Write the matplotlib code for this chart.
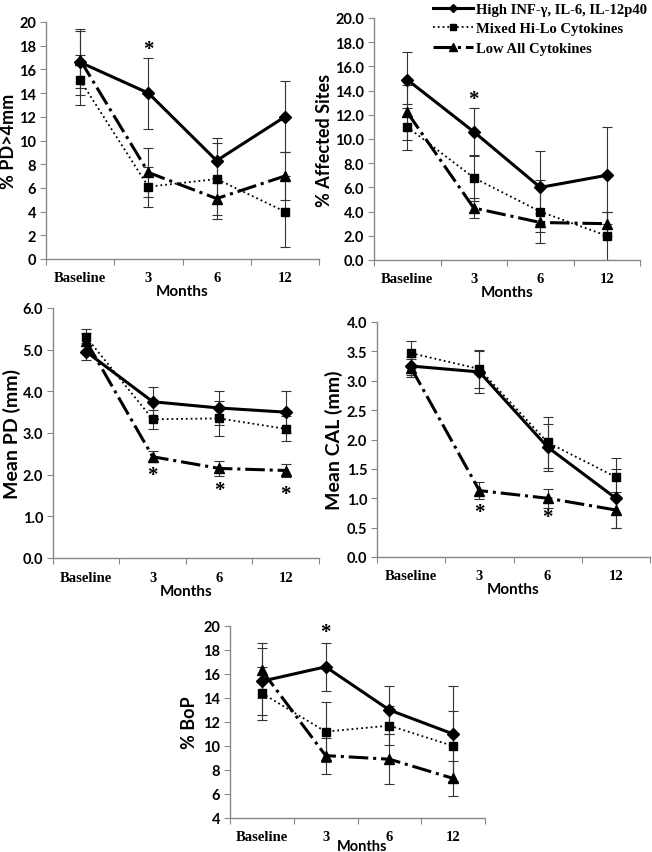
import matplotlib
matplotlib.use("Agg")
import matplotlib.pyplot as plt
import numpy as np

plt.rcParams['font.family'] = ['Lato', 'DejaVu Sans']
plt.rcParams['font.weight'] = 'bold'

cats = ["Baseline", "3", "6", "12"]
names = ["High INF-\u03b3, IL-6, IL-12p40", "Mixed Hi-Lo Cytokines", "Low All Cytokines"]

# % PD>4mm
pd4_high = [16.6, 14.0, 8.3, 12.0]
pd4_high_err = [2.8, 3.0, 1.9, 3.0]
pd4_mix = [15.1, 6.1, 6.75, 4.0]
pd4_mix_err = [2.1, 1.7, 3.0, 3.0]
pd4_low = [16.8, 7.3, 5.1, 7.0]
pd4_low_err = [2.4, 2.1, 1.7, 2.0]

# % Affected Sites
aff_high = [14.9, 10.6, 6.0, 7.0]
aff_high_err = [2.3, 2.0, 3.0, 4.0]
aff_mix = [11.0, 6.8, 4.0, 2.0]
aff_mix_err = [1.9, 1.9, 2.6, 2.0]
aff_low = [12.2, 4.3, 3.1, 3.0]
aff_low_err = [2.3, 0.8, 0.8, 1.0]

# Mean PD
mpd_high = [4.95, 3.75, 3.6, 3.5]
mpd_high_err = [0.2, 0.35, 0.4, 0.5]
mpd_mix = [5.3, 3.33, 3.35, 3.1]
mpd_mix_err = [0.2, 0.23, 0.42, 0.3]
mpd_low = [5.2, 2.43, 2.15, 2.1]
mpd_low_err = [0.2, 0.13, 0.17, 0.16]

# Mean CAL
cal_high = [3.25, 3.15, 1.87, 1.0]
cal_high_err = [0.15, 0.35, 0.4, 0.5]
cal_mix = [3.47, 3.2, 1.95, 1.36]
cal_mix_err = [0.21, 0.32, 0.43, 0.32]
cal_low = [3.22, 1.13, 1.0, 0.8]
cal_low_err = [0.15, 0.14, 0.16, 0.3]

# % BoP
bop_high = [15.4, 16.6, 13.0, 11.0]
bop_high_err = [2.8, 2.0, 2.0, 4.0]
bop_mix = [14.4, 11.2, 11.7, 10.0]
bop_mix_err = [2.2, 2.5, 1.6, 2.9]
bop_low = [16.3, 9.2, 8.9, 7.3]
bop_low_err = [2.3, 1.5, 2.1, 1.45]

W, H = 652, 853
fig = plt.figure(figsize=(W / 100, H / 100), dpi=100)

def make_ax(l, r, t, b):
    return fig.add_axes([l / W, 1 - b / H, (r - l) / W, (b - t) / H])

def draw(ax, high, high_e, mix, mix_e, low, low_e, ylim, step, fmt, ylabel, ylab_x, ylab_size, stars, l, r):
    x = np.arange(4) + 0.5
    for vals, errs in [(high, high_e), (mix, mix_e), (low, low_e)]:
        ax.errorbar(x, vals, yerr=errs, fmt='none', ecolor='#333333', elinewidth=0.8, capsize=3.5, capthick=0.8)
    h = ax.plot(x, high, '-', color='black', lw=2.2, marker='D', ms=6)[0]
    m = ax.plot(x, mix, ':', color='black', lw=1.3, marker='s', ms=6)[0]
    lo = ax.plot(x, low, '-.', color='black', lw=2.2, marker='^', ms=7.5)[0]
    ax.set_xlim(0, 4)
    ax.set_ylim(*ylim)
    ax.set_yticks(np.arange(ylim[0], ylim[1] + step / 2, step))
    ax.yaxis.set_major_formatter(plt.FuncFormatter(lambda v, p: fmt.format(v)))
    ax.set_xticks([0, 1, 2, 3, 4])
    ax.set_xticklabels([])
    ax.set_xticks(x, minor=True)
    ax.set_xticklabels(cats, minor=True, family='Liberation Serif', fontweight='bold', fontsize=10.5)
    ax.tick_params(axis='x', which='minor', length=0, pad=9)
    ax.tick_params(axis='x', which='major', length=4, color='#888888', direction='out')
    ax.tick_params(axis='y', length=4, color='#888888', direction='out', labelsize=10.5, pad=3)
    for s in ['top', 'right']:
        ax.spines[s].set_visible(False)
    for s in ['left', 'bottom']:
        ax.spines[s].set_color('#888888')
        ax.spines[s].set_linewidth(1.0)
    ax.set_ylabel(ylabel, fontsize=ylab_size, fontweight='bold')
    ax.yaxis.set_label_coords((ylab_x - l) / (r - l), 0.5)
    for xi, yi in stars:
        ax.text(x[xi], yi, '*', ha='center', va='center', fontsize=15, family='Liberation Serif')
    return h, m, lo

ax1 = make_ax(46, 319, 23, 260)
handles = draw(ax1, pd4_high, pd4_high_err, pd4_mix, pd4_mix_err, pd4_low, pd4_low_err,
               (0, 20), 2, '{:.0f}', '% PD>4mm', 17, 13, [(1, 17.7)], 46, 319)
ax1.set_xlabel('Months', fontsize=11, fontweight='bold', labelpad=0)

ax2 = make_ax(374, 640, 19, 261)
draw(ax2, aff_high, aff_high_err, aff_mix, aff_mix_err, aff_low, aff_low_err,
     (0, 20), 2, '{:.1f}', '% Affected Sites', 333, 13, [(1, 13.3)], 374, 640)
ax2.set_xlabel('Months', fontsize=11, fontweight='bold', labelpad=0)

ax3 = make_ax(53, 319, 309, 559)
draw(ax3, mpd_high, mpd_high_err, mpd_mix, mpd_mix_err, mpd_low, mpd_low_err,
     (0, 6), 1, '{:.1f}', 'Mean PD (mm)', 21, 14, [(1, 2.0), (2, 1.62), (3, 1.53)], 53, 319)
ax3.set_xlabel('Months', fontsize=11, fontweight='bold', labelpad=0)

ax4 = make_ax(377, 650, 323, 558)
draw(ax4, cal_high, cal_high_err, cal_mix, cal_mix_err, cal_low, cal_low_err,
     (0, 4), 0.5, '{:.1f}', 'Mean CAL (mm)', 343, 14, [(1, 0.77), (2, 0.68)], 377, 650)
ax4.set_xlabel('Months', fontsize=11, fontweight='bold', labelpad=0)

ax5 = make_ax(230, 485, 627, 819)
draw(ax5, bop_high, bop_high_err, bop_mix, bop_mix_err, bop_low, bop_low_err,
     (4, 20), 2, '{:.0f}', '% BoP', 198, 13, [(1, 19.5)], 230, 485)
ax5.set_xlabel('Months', fontsize=10.5, fontweight='bold')
ax5.xaxis.set_label_coords((362 - 230) / 255, -0.108)

fig.legend(handles, names, loc='upper left', bbox_to_anchor=(432 / W, 1 - 2 / H),
           frameon=False, prop={'family': 'Liberation Serif', 'weight': 'bold', 'size': 10.5},
           handlelength=2.7, handletextpad=0.2, labelspacing=0.45, borderpad=0.1,
           borderaxespad=0, numpoints=1, markerscale=0.75)

fig.savefig('out.png', dpi=100)
